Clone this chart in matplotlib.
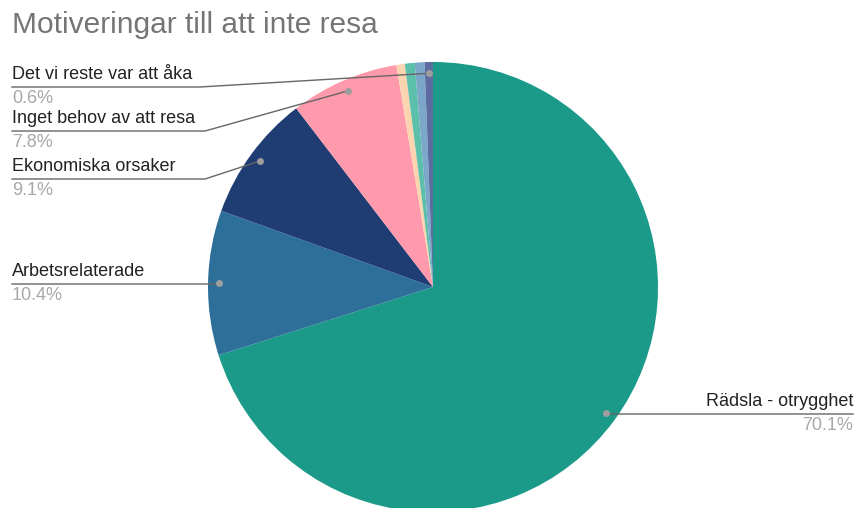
import numpy as np
import matplotlib.pyplot as plt

# Slices in clockwise order from 12 o'clock
labels = ["Rädsla - otrygghet", "Arbetsrelaterade", "Ekonomiska orsaker",
          "Inget behov av att resa", "Övrigt 1", "Övrigt 2", "Övrigt 3",
          "Det vi reste var att åka"]
values = [70.1, 10.4, 9.1, 7.8, 0.6, 0.7, 0.7, 0.6]
colors = ["#1b9a8a", "#2e6f9a", "#1f3c73", "#ff9aac",
          "#fdd4b0", "#5bbfaa", "#7ba7c9", "#5c6ba0"]

# which slices get a callout, and where the label sits (x, underline y, side)
callouts = {
    0: (853, 414, "right"),
    1: (12, 284, "left"),
    2: (12, 179, "left"),
    3: (12, 131, "left"),
    7: (12, 87, "left"),
}
text_end = {1: 210, 2: 205, 3: 205, 7: 200}

plt.rcParams["font.family"] = ["Liberation Sans", "DejaVu Sans"]

fig = plt.figure(figsize=(8.59, 5.08), dpi=100)
ax = fig.add_axes([0, 0, 1, 1])

cx, cy, r = 433, 287, 225
wedges, _ = ax.pie(values, colors=colors, startangle=-90, counterclock=True,
                   center=(cx, cy), radius=r, frame=True,
                   wedgeprops=dict(linewidth=0))
ax.set_xlim(0, 859)
ax.set_ylim(508, 0)
ax.set_aspect("equal")
ax.axis("off")

fs = 13
total = sum(values)
cum = np.cumsum([0] + values)
for i, (lx, ly, side) in callouts.items():
    mid = -90 + 360 * (cum[i] + values[i] / 2) / total
    th = np.deg2rad(mid)
    dx = cx + 0.95 * r * np.cos(th)
    dy = cy + 0.95 * r * np.sin(th)
    ax.plot(dx, dy, "o", color="#9e9e9e", ms=4, zorder=5)
    ha = "left" if side == "left" else "right"
    knee = text_end[i] if side == "left" else 603
    ax.plot([lx, knee, dx], [ly, ly, dy], color="#666666", lw=1, zorder=4)
    ax.text(lx, ly - 8, labels[i], ha=ha, va="baseline", fontsize=fs, color="#222222")
    ax.text(lx, ly + 3, f"{values[i]:.1f}%", ha=ha, va="top", fontsize=fs, color="#a8a8a8")

fig.text(12 / 859, 1 - 25 / 508, "Motiveringar till att inte resa", ha="left", va="center",
         fontsize=21.5, color="#757575")

fig.savefig("out.png", dpi=100)
